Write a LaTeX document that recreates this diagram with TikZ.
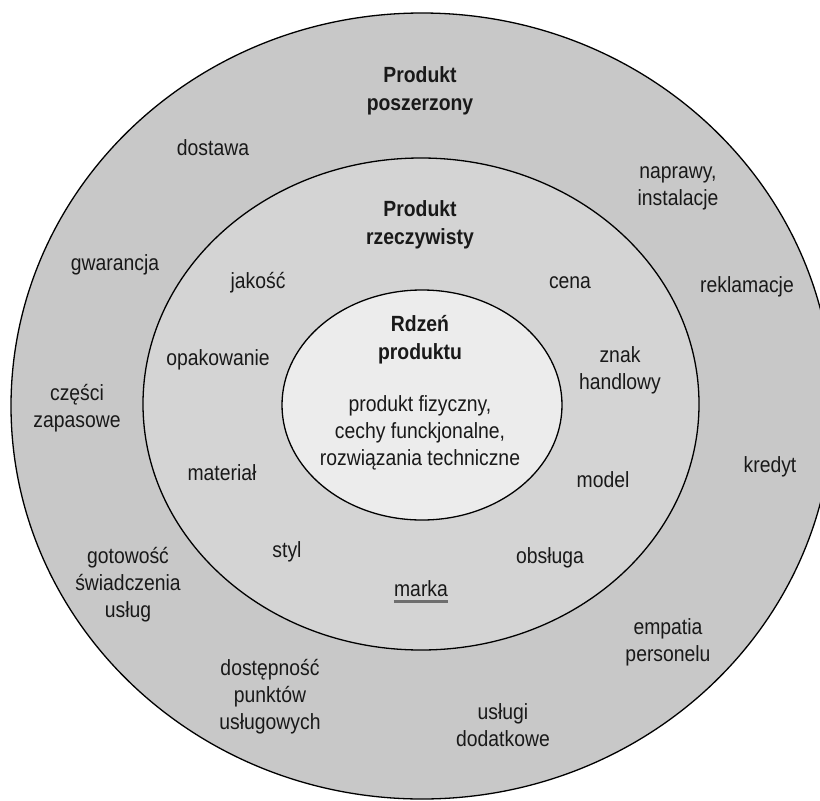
\documentclass[tikz,border=0pt]{standalone}
\usepackage{fontspec}
\setmainfont[FakeStretch=0.88]{Liberation Sans}
\definecolor{outerg}{RGB}{200,200,200}
\definecolor{midg}{RGB}{212,212,212}
\definecolor{innerg}{RGB}{236,236,236}
\definecolor{txt}{RGB}{25,25,25}
\definecolor{ulg}{RGB}{110,110,110}
\begin{document}
\begin{tikzpicture}[x=1pt,y=-1pt,
  ring/.style={draw=black, line width=1.3pt},
  lbl/.style={align=center, font=\fontsize{22}{27}\selectfont, text=txt, inner sep=0pt},
  ttl/.style={lbl, font=\fontsize{22}{28}\selectfont\bfseries}]
\clip (0,0) rectangle (820,801);
\fill[white] (0,0) rectangle (820,801);
\draw[ring, fill=outerg] (422,406) ellipse [x radius=411pt, y radius=393pt];
\draw[ring, fill=midg] (421,404) ellipse [x radius=278pt, y radius=246pt];
\draw[ring, fill=innerg] (422,405) ellipse [x radius=140pt, y radius=115pt];

% outer ring
\node[ttl] (poszerzony) at (420,91) {Produkt\\poszerzony};
\node[lbl] (dostawa) at (213,148) {dostawa};
\node[lbl] (naprawy) at (678,188) {naprawy,\\instalacje};
\node[lbl] (reklamacje) at (747,287) {reklamacje};
\node[lbl] (gwarancja) at (115,265) {gwarancja};
\node[lbl] (czesci) at (77,408) {części\\zapasowe};
\node[lbl] (kredyt) at (770,467) {kredyt};
\node[lbl] (gotowosc) at (128,585) {gotowość\\świadczenia\\usług};
\node[lbl] (empatia) at (668,642) {empatia\\personelu};
\node[lbl] (dostepnosc) at (270,697) {dostępność\\punktów\\usługowych};
\node[lbl] (uslugi) at (503,725) {usługi\\dodatkowe};

% middle ring
\node[ttl] (rzeczywisty) at (420,225) {Produkt\\rzeczywisty};
\node[lbl] (jakosc) at (258,283) {jakość};
\node[lbl] (cena) at (570,283) {cena};
\node[lbl] (opakowanie) at (218,360) {opakowanie};
\node[lbl] (znak) at (620,370) {znak\\handlowy};
\node[lbl] (material) at (222,473) {materiał};
\node[lbl] (model) at (603,480) {model};
\node[lbl] (styl) at (287,552) {styl};
\node[lbl] (obsluga) at (550,558) {obsługa};
\node[lbl, anchor=base] (marka) at (421,596) {marka};
\draw[ulg, line width=3pt] ([yshift=-5.5pt]marka.base west) -- ([yshift=-5.5pt]marka.base east);

% core
\node[ttl] (rdzen) at (420,340) {Rdzeń\\produktu};
\node[lbl] (core) at (420,433) {produkt fizyczny,\\cechy funckjonalne,\\rozwiązania techniczne};
\end{tikzpicture}
\end{document}
